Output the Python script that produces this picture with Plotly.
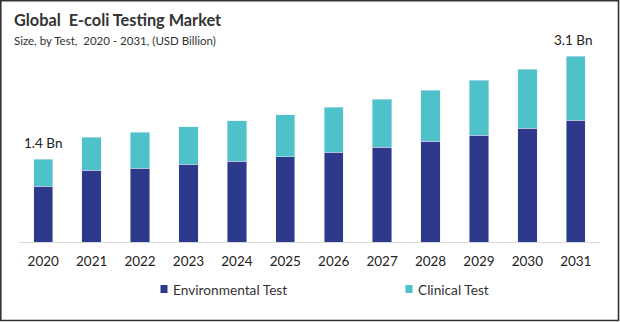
import plotly.graph_objects as go

years = ["2020", "2021", "2022", "2023", "2024", "2025", "2026", "2027", "2028", "2029", "2030", "2031"]
environmental = [0.93, 1.20, 1.23, 1.30, 1.35, 1.42, 1.50, 1.58, 1.68, 1.78, 1.90, 2.03]
clinical = [0.45, 0.55, 0.60, 0.62, 0.67, 0.70, 0.75, 0.80, 0.85, 0.92, 0.98, 1.07]
series_names = ["Environmental Test", "Clinical Test"]
end_labels = {"2020": "1.4 Bn", "2031": "3.1 Bn"}

W, H = 620, 322
L, R, T, B = 19, 20, 40, 80
PW, PH = W - L - R, H - T - B

def px(x):
    return (x - L) / PW

def py(y):
    return (H - B - y) / PH

C_ENV = "#2d3a8c"
C_CLI = "#4fc1cb"
FONT = "Lato"

fig = go.Figure()
fig.add_trace(go.Bar(x=years, y=environmental, name=series_names[0], marker_color=C_ENV,
                     width=0.4, showlegend=False))
fig.add_trace(go.Bar(x=years, y=clinical, name=series_names[1], marker_color=C_CLI,
                     width=0.4, showlegend=False))

totals = [e + c for e, c in zip(environmental, clinical)]
annotations = []
for i, (yr, tot) in enumerate(zip(years, totals)):
    if yr in end_labels:
        annotations.append(dict(x=i, y=tot, xref="x", yref="y", text=end_labels[yr],
                                showarrow=False, yanchor="bottom", yshift=6,
                                xshift=-3 if yr == "2031" else 0,
                                font=dict(family=FONT, size=13.5, color="#222")))

# title and subtitle
annotations.append(dict(x=px(12), y=py(20), xref="paper", yref="paper", xanchor="left", yanchor="middle",
                        text="<b>Global  E-coli Testing Market</b>", showarrow=False,
                        font=dict(family=FONT, size=16.3, color="#333")))
annotations.append(dict(x=px(12), y=py(40), xref="paper", yref="paper", xanchor="left", yanchor="middle",
                        text="Size, by Test,  2020 - 2031, (USD Billion)", showarrow=False,
                        font=dict(family=FONT, size=11.5, color="#333")))

# legend (manual)
shapes = []
for name, color, sx in [(series_names[0], C_ENV, 160.5), (series_names[1], C_CLI, 405.5)]:
    shapes.append(dict(type="rect", xref="paper", yref="paper", x0=px(sx), x1=px(sx + 7),
                       y0=py(293), y1=py(285), fillcolor=color, line=dict(width=0)))
    annotations.append(dict(x=px(sx + 10.5), y=py(289), xref="paper", yref="paper", xanchor="left",
                            yanchor="middle", text=name, showarrow=False,
                            font=dict(family=FONT, size=13.7, color="#333")))

# outer border
shapes.append(dict(type="rect", xref="paper", yref="paper", x0=px(0.8), x1=px(618.5),
                   y0=py(320.5), y1=py(0.8), line=dict(color="#333", width=1.6), fillcolor="rgba(0,0,0,0)",
                   layer="above"))

fig.update_layout(
    width=W, height=H, barmode="stack",
    margin=dict(l=L, r=R, t=T, b=B),
    paper_bgcolor="white", plot_bgcolor="white",
    bargap=0.6,
    xaxis=dict(type="category", categoryorder="array", categoryarray=years,
               range=[-0.5, len(years) - 0.5],
               showline=True, linecolor="#d9d9d9", linewidth=1, showgrid=False, ticks="",
               ticklabelstandoff=7,
               tickfont=dict(family=FONT, size=13.5, color="#222"), fixedrange=True),
    yaxis=dict(visible=False, range=[0, PH / 60.0], showgrid=False, fixedrange=True),
    annotations=annotations, shapes=shapes,
    showlegend=False,
)

fig.write_html("out.html", config={"displayModeBar": False})
